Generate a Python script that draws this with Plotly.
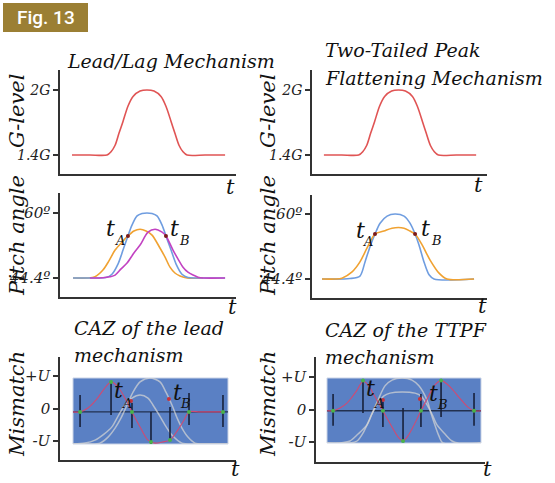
import plotly.graph_objects as go

W, H = 555, 483

# ---------------- data ----------------
# G-level profile (same for both top panels), t in arbitrary units (0..10 along axis)
g_t = [0.68, 1.70, 2.67, 2.90, 3.13, 3.35, 3.58, 3.86, 4.15, 4.55, 4.94, 5.34, 5.74, 6.02, 6.31, 6.53, 6.76, 6.99, 7.22, 8.24, 9.38]
g_level = [1.40, 1.40, 1.40, 1.43, 1.49, 1.60, 1.71, 1.85, 1.94, 1.99, 2.00, 1.99, 1.94, 1.85, 1.71, 1.60, 1.49, 1.43, 1.40, 1.40, 1.40]
g_ticks = [1.4, 2.0]
g_ticktext = ["1.4G", "2G"]

# Lead/Lag pitch curves
ll_blue_t = [0.74, 1.99, 2.61, 2.95, 3.30, 3.58, 3.86, 4.09, 4.38, 4.66, 4.94, 5.23, 5.51, 5.80, 6.02, 6.31, 6.59, 6.93, 7.27, 7.90, 9.38]
ll_blue = [44.4, 44.4, 44.5, 45.3, 47.8, 51.1, 54.5, 57.1, 59.3, 59.9, 60.0, 59.9, 59.3, 57.1, 54.5, 51.1, 47.8, 45.3, 44.5, 44.4, 44.4]
ll_orange_t = [0.74, 1.59, 1.99, 2.44, 2.78, 3.13, 3.52, 3.86, 4.20, 4.55, 4.89, 5.23, 5.68, 5.97, 6.25, 6.53, 6.82, 7.22, 8.13]
ll_orange = [44.4, 44.4, 44.7, 46.3, 48.5, 51.1, 53.0, 54.5, 55.7, 56.1, 55.7, 54.7, 51.6, 49.4, 47.0, 45.6, 44.9, 44.4, 44.4]
ll_magenta_t = [1.70, 2.44, 2.84, 3.13, 3.47, 3.81, 4.20, 4.55, 5.00, 5.40, 5.80, 6.02, 6.42, 6.70, 6.99, 7.27, 7.56, 7.84, 8.13, 9.38]
ll_magenta = [44.4, 44.45, 44.7, 45.1, 46.6, 48.0, 50.4, 52.3, 55.4, 56.1, 55.4, 54.5, 51.1, 49.0, 47.0, 45.8, 45.1, 44.6, 44.4, 44.4]
ll_cross_t = [3.86, 6.02]
ll_cross = [54.5, 54.5]

# TTPF pitch curves
tt_blue_t = [0.57, 2.17, 2.74, 3.03, 3.31, 3.60, 3.89, 4.29, 4.74, 5.26, 5.60, 5.89, 6.11, 6.40, 6.69, 6.97, 9.26]
tt_blue = [44.4, 44.5, 45.1, 48.5, 52.1, 55.2, 57.8, 59.5, 60.0, 59.5, 57.8, 55.2, 52.6, 48.5, 45.4, 44.4, 44.4]
tt_orange_t = [0.57, 1.31, 1.71, 2.29, 2.74, 3.14, 3.60, 4.11, 4.57, 5.26, 5.60, 5.89, 6.29, 6.74, 7.26, 7.71, 9.26]
tt_orange = [44.4, 44.4, 44.6, 46.1, 48.5, 51.8, 55.2, 55.9, 56.6, 56.6, 55.9, 55.2, 52.6, 49.0, 45.8, 44.4, 44.4]
tt_cross_t = [3.60, 5.89]
tt_cross = [55.2, 55.2]
pitch_ticks = [44.4, 60]
pitch_ticktext = ["44.4º", "60º"]

# CAZ of the lead mechanism (mismatch in units of U)
caz_ll_pts_t = [1.14, 2.90, 4.09, 5.17, 6.25, 7.33, 9.26]
caz_ll_pts = [0.0, 1.0, 0.0, -1.0, -0.94, 0.0, 0.0]
caz_ll_lo = [-0.50, -0.10, -0.54, -1.07, -0.94, -0.44, -0.50]
caz_ll_hi = [0.56, 1.0, 0.30, 0.0, 0.16, 0.63, 0.56]
caz_ll_line_t = [0.74, 1.14, 1.59, 2.05, 2.50, 2.90, 3.30, 3.69, 4.09, 4.55, 5.00, 5.40, 5.85, 6.25, 6.70, 7.05, 7.33, 7.95, 9.26]
caz_ll_line = [0, 0, 0.13, 0.40, 0.76, 1.0, 0.83, 0.46, 0, -0.50, -0.94, -1.04, -1.0, -0.94, -0.60, -0.27, 0, 0, 0]
caz_ll_red_t = [4.03, 6.19]
caz_ll_red = [0.36, 0.43]
caz_ll_tall_t = [0.74, 1.70, 2.27, 2.73, 3.13, 3.47, 3.81, 4.15, 4.55, 5.11, 5.68, 6.02, 6.36, 6.65, 6.93, 7.27, 7.67, 8.24, 9.55]
caz_ll_tall = [-1.07, -1.07, -1.04, -0.84, -0.54, -0.20, 0.23, 0.66, 1.0, 1.13, 1.0, 0.66, 0.23, -0.20, -0.54, -0.84, -1.04, -1.07, -1.07]
caz_ll_short_t = [0.74, 1.42, 1.99, 2.50, 2.95, 3.30, 3.69, 4.09, 4.55, 5.00, 5.28, 5.63, 5.97, 6.36, 6.93, 7.67, 9.55]
caz_ll_short = [-1.07, -1.04, -0.94, -0.74, -0.50, -0.14, 0.23, 0.46, 0.56, 0.46, 0.23, -0.10, -0.44, -0.77, -1.04, -1.07, -1.07]

# CAZ of the TTPF mechanism
caz_tt_pts_t = [1.01, 2.78, 3.96, 5.15, 6.21, 7.40, 9.35]
caz_tt_pts = [0.0, 1.0, 0.0, -1.0, 0.0, 1.0, 0.0]
caz_tt_lo = [-0.50, -0.08, -0.54, -1.0, -0.54, -0.21, -0.50]
caz_tt_hi = [0.55, 1.0, 0.29, 0.09, 0.55, 1.0, 0.58]
caz_tt_line_t = [0.65, 1.01, 1.42, 1.83, 2.13, 2.43, 2.78, 3.08, 3.37, 3.67, 3.96, 4.26, 4.56, 4.85, 5.15, 5.44, 5.74, 5.98, 6.21, 6.51, 6.75, 7.04, 7.40, 7.75, 8.11, 8.40, 8.70, 8.99, 9.35, 9.76]
caz_tt_line = [0, 0, 0.09, 0.25, 0.45, 0.68, 0.98, 0.85, 0.58, 0.29, 0, -0.31, -0.60, -0.86, -1.0, -0.83, -0.54, -0.27, 0, 0.32, 0.58, 0.85, 1.0, 0.88, 0.68, 0.48, 0.29, 0.12, 0, 0]
caz_tt_red_t = [3.96, 6.15]
caz_tt_red = [0.35, 0.39]
caz_tt_tall_t = [0.65, 2.01, 2.43, 2.78, 3.20, 3.67, 4.08, 4.50, 5.09, 5.68, 6.09, 6.57, 6.80, 7.04, 7.28, 7.51, 9.76]
caz_tt_tall = [-1.066, -1.066, -1.0, -0.74, -0.24, 0.35, 0.82, 1.01, 1.08, 1.01, 0.82, 0.35, -0.08, -0.48, -0.84, -1.066, -1.066]
caz_tt_short_t = [0.65, 1.42, 2.01, 2.49, 3.02, 3.31, 3.67, 4.02, 4.38, 5.09, 5.86, 6.21, 6.51, 6.86, 7.16, 7.63, 8.05, 8.40, 9.76]
caz_tt_short = [-1.066, -1.066, -1.0, -0.77, -0.47, -0.11, 0.25, 0.49, 0.58, 0.62, 0.58, 0.49, 0.25, -0.11, -0.47, -0.77, -1.0, -1.066, -1.066]
mis_ticks = [-1, 0, 1]
mis_ticktext = ["-U", "0", "+U"]

# ---------------- helpers ----------------
def fx(p):
    return p / W

def fy(p):
    return 1 - p / H

SERIF = "DejaVu Serif"
AX = "#333333"
TICKFONT = dict(family=SERIF, style="italic", size=14, color="#222")

fig = go.Figure()

def yr(top_px, bot_px, v_hi, p_hi, v_lo, p_lo):
    s = (v_hi - v_lo) / (p_lo - p_hi)
    return [v_lo - (bot_px - p_lo) * s, v_hi + (p_hi - top_px) * s]

# outer panels: (x-left, x-right, y-top, y-bottom, y-range, tickvals, ticktext, tickfontsize)
panels = [
    (60, 236, 70, 174, yr(70, 174, 2.0, 90, 1.4, 155), g_ticks, g_ticktext, 14),
    (312, 487, 70, 174, yr(70, 174, 2.0, 90, 1.4, 155), g_ticks, g_ticktext, 14),
    (60, 236, 193, 297, yr(193, 297, 60, 213, 44.4, 278), pitch_ticks, pitch_ticktext, 15),
    (312, 487, 195, 298, yr(195, 298, 60, 214, 44.4, 279), pitch_ticks, pitch_ticktext, 15),
    (60, 236, 357, 460, yr(357, 460, 1, 376, -1, 441), mis_ticks, mis_ticktext, 15),
    (316, 485, 357, 462, yr(357, 462, 1, 377, -1, 442), mis_ticks, mis_ticktext, 15),
]

layout = dict(
    width=W, height=H, margin=dict(l=0, r=0, t=0, b=0),
    paper_bgcolor="white", plot_bgcolor="rgba(0,0,0,0)", showlegend=False,
)
for i, (x0, x1, yt, yb, rng, tv, tt, tfs) in enumerate(panels, start=1):
    sfx = "" if i == 1 else str(i)
    layout["xaxis" + sfx] = dict(
        domain=[fx(x0), fx(x1)], range=[0, 10], anchor="y" + sfx,
        showline=True, linecolor=AX, linewidth=1.5, showgrid=False, zeroline=False,
        showticklabels=False, ticks="", fixedrange=True,
    )
    layout["yaxis" + sfx] = dict(
        domain=[fy(yb), fy(yt)], range=rng, anchor="x" + sfx,
        showline=True, linecolor=AX, linewidth=1.5, showgrid=False, zeroline=False,
        ticks="outside", ticklen=5, tickwidth=1.5, tickcolor=AX,
        tickvals=tv, ticktext=tt, tickfont=dict(TICKFONT, size=tfs), fixedrange=True,
    )

# inner CAZ axes (7 for lead, 8 for TTPF)
inner = [
    (73, 228, 378, 444, 60, 17.6, [-1.07, 1.13]),
    (327, 481, 378, 443, 316, 16.9, [-1.066, 1.079]),
]
for j, (x0, x1, yt, yb, ax0, pxu, rng) in enumerate(inner, start=7):
    layout["xaxis%d" % j] = dict(domain=[fx(x0), fx(x1)], range=[(x0 - ax0) / pxu, (x1 - ax0) / pxu],
                                 anchor="y%d" % j, visible=False, fixedrange=True)
    layout["yaxis%d" % j] = dict(domain=[fy(yb), fy(yt)], range=rng, anchor="x%d" % j,
                                 visible=False, fixedrange=True)

fig.update_layout(**layout)

RED = "#e05454"
BLUE = "#6f9de0"
ORANGE = "#f0a232"
MAGENTA = "#c243c2"

def line(x, y, color, xa, ya, width=1.6, shape="spline"):
    fig.add_trace(go.Scatter(x=x, y=y, mode="lines", xaxis=xa, yaxis=ya,
                             line=dict(color=color, width=width, shape=shape, smoothing=0.8),
                             hoverinfo="skip"))

def dots(x, y, color, xa, ya, size=4):
    fig.add_trace(go.Scatter(x=x, y=y, mode="markers", xaxis=xa, yaxis=ya,
                             marker=dict(color=color, size=size), hoverinfo="skip"))

# placeholder traces so that the outer mismatch axes are drawn
for j in (5, 6):
    fig.add_trace(go.Scatter(x=[None], y=[None], mode="markers", xaxis="x%d" % j, yaxis="y%d" % j,
                             hoverinfo="skip"))

# G-level
line(g_t, g_level, RED, "x", "y")
line(g_t, g_level, RED, "x2", "y2")

# pitch panels
line(ll_orange_t, ll_orange, ORANGE, "x3", "y3")
line(ll_blue_t, ll_blue, BLUE, "x3", "y3")
line(ll_magenta_t, ll_magenta, MAGENTA, "x3", "y3")
dots(ll_cross_t, ll_cross, "#7a1a1a", "x3", "y3", 4)

line(tt_blue_t, tt_blue, BLUE, "x4", "y4")
line(tt_orange_t, tt_orange, ORANGE, "x4", "y4")
dots(tt_cross_t, tt_cross, "#7a1a1a", "x4", "y4", 4)

# CAZ panels
RECT = "#5a80c4"
for j in (7, 8):
    fig.add_shape(type="rect", xref="x%d domain" % j, yref="y%d domain" % j, x0=0, x1=1, y0=0, y1=1,
                  fillcolor=RECT, line=dict(color="#c9d3e6", width=1), layer="below")
    fig.add_shape(type="line", xref="x%d domain" % j, yref="y%d" % j, x0=0, x1=1, y0=0, y1=0,
                  line=dict(color="#22304f", width=1.4), layer="below")

GRAY = "rgba(212,212,212,0.72)"

def caz(tall_t, tall, short_t, short, line_t, line_v, pts_t, pts, lo, hi, red_t, red, j):
    xa, ya = "x%d" % j, "y%d" % j
    line(tall_t, tall, GRAY, xa, ya, 1.5)
    line(short_t, short, GRAY, xa, ya, 1.5)
    bx, by = [], []
    for t, a, b in zip(pts_t, lo, hi):
        bx += [t, t, None]
        by += [a, b, None]
    fig.add_trace(go.Scatter(x=bx, y=by, mode="lines", xaxis=xa, yaxis=ya,
                             line=dict(color="#18213b", width=1.6), hoverinfo="skip"))
    line(line_t, line_v, "#cf4a73", xa, ya, 1.1)
    dots(pts_t, pts, "#49b34a", xa, ya, 4)
    dots(red_t, red, "#c8323a", xa, ya, 4)

caz(caz_ll_tall_t, caz_ll_tall, caz_ll_short_t, caz_ll_short, caz_ll_line_t, caz_ll_line,
    caz_ll_pts_t, caz_ll_pts, caz_ll_lo, caz_ll_hi, caz_ll_red_t, caz_ll_red, 7)
caz(caz_tt_tall_t, caz_tt_tall, caz_tt_short_t, caz_tt_short, caz_tt_line_t, caz_tt_line,
    caz_tt_pts_t, caz_tt_pts, caz_tt_lo, caz_tt_hi, caz_tt_red_t, caz_tt_red, 8)

# ---------------- text ----------------
def ann(text, x, y, size, xanchor="center", angle=0, color="#111", family=SERIF, italic=True, weight=None):
    f = dict(family=family, size=size, color=color)
    if italic:
        f["style"] = "italic"
    if weight:
        f["weight"] = weight
    fig.add_annotation(text=text, x=fx(x), y=fy(y), xref="paper", yref="paper", showarrow=False,
                       xanchor=xanchor, yanchor="middle", textangle=angle, font=f)

# badge
fig.add_shape(type="rect", xref="paper", yref="paper", x0=fx(3), x1=fx(88), y0=fy(32), y1=fy(3),
              fillcolor="#9b7f34", line=dict(width=0))
ann("Fig. 13", 46, 18, 19, family="Roboto", italic=False, color="white", weight=500)

# titles
ann("Lead/Lag Mechanism", 171, 61, 19)
ann("Two-Tailed Peak", 323, 50, 19, xanchor="left")
ann("Flattening Mechanism", 323, 78, 19, xanchor="left")
ann("CAZ of the lead", 72, 328, 19, xanchor="left")
ann("mechanism", 72, 355, 19, xanchor="left")
ann("CAZ of the TTPF", 323, 330, 19, xanchor="left")
ann("mechanism", 323, 357, 19, xanchor="left")

# y titles
for xc in (17, 268):
    ann("G-level", xc, 111, 21, angle=-90)
    ann("Pitch angle", xc, 236, 21, angle=-90)
    ann("Mismatch", xc, 404, 21, angle=-90)

# t labels at axis ends
for (x, y) in [(230, 187), (478, 185), (232, 307), (482, 306), (235, 469), (487, 469)]:
    ann("t", x, y, 21)

# tA / tB labels
for (x, y, sub, sx, sy) in [
    (110, 228, "A", 120, 240), (174, 228, "B", 184, 240),
    (360, 230, "A", 368, 241), (425, 228, "B", 436, 240),
    (118, 390, "A", 127, 403), (177, 392, "B", 185, 403),
    (370, 388, "A", 379, 403), (433, 393, "B", 442, 404),
]:
    ann("t", x, y, 22)
    ann(sub, sx, sy, 13)

fig.write_html("out.html")
